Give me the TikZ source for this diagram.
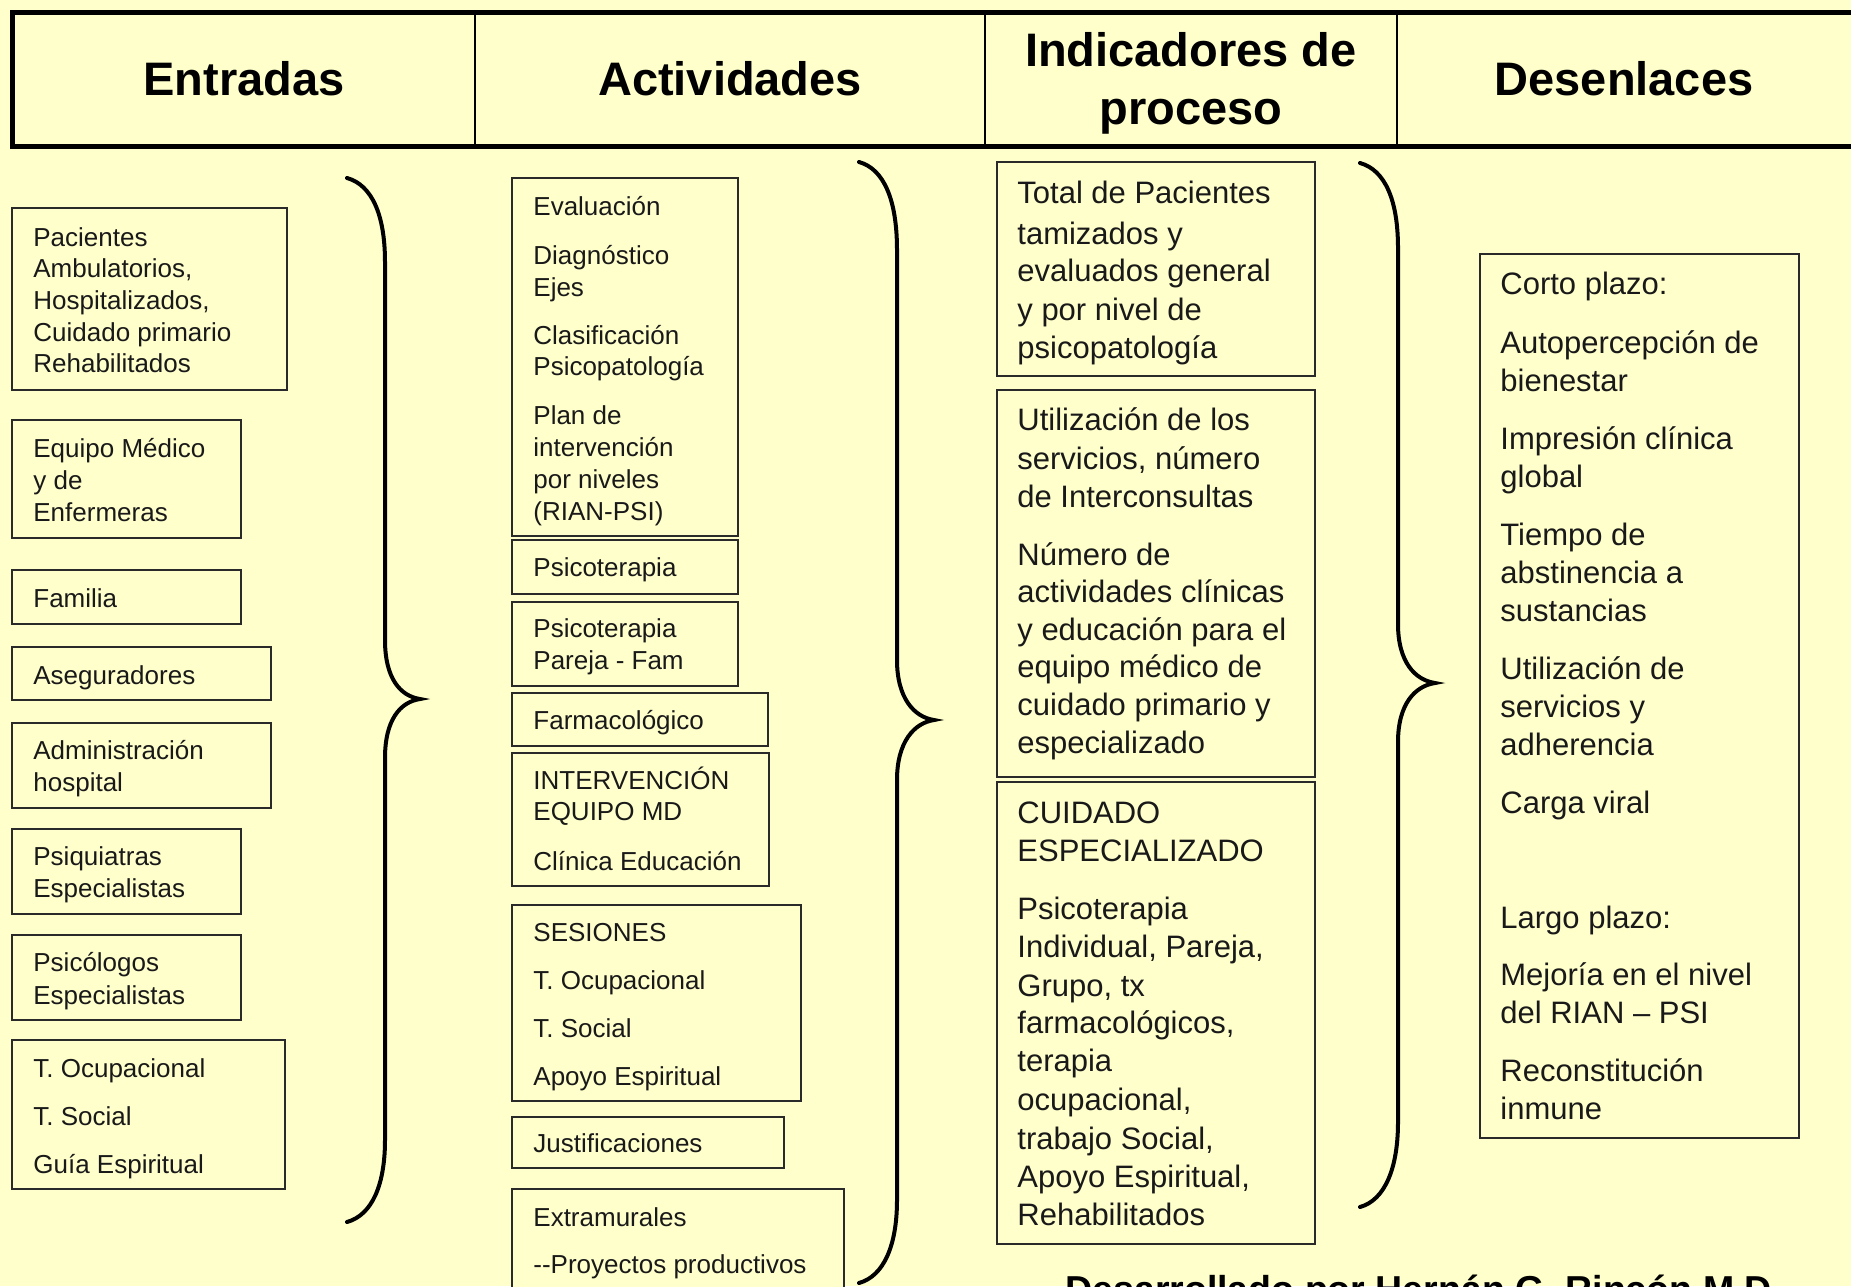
\documentclass[tikz,border=0pt]{standalone}
\usepackage{fontspec}
\setmainfont{Liberation Sans}
\definecolor{bg}{HTML}{FFFFCC}
\definecolor{ln}{HTML}{2A2A2A}
\newcommand\ftA{\fontsize{13}{15}\selectfont}
\newcommand\ftB{\fontsize{15.5}{18}\selectfont}
\newcommand\ftH{\fontsize{23.5}{26}\selectfont\bfseries}
\newcommand\ftF{\fontsize{18.75}{22}\selectfont\bfseries}
\newcommand\mybox[5]{\node[boxst, minimum width={(#4-#2)*0.5pt}, minimum height={(#5-#3)*0.5pt}] (#1) at ({(#2+#4)/2},{(#3+#5)/2}) {};}
\tikzset{
  boxst/.style={draw=ln, line width=1pt, fill=bg, inner sep=0pt, outer sep=0pt, rectangle},
  txa/.style={font=\ftA, inner sep=0pt, anchor=base west, text=black!90},
  txb/.style={font=\ftB, inner sep=0pt, anchor=base west, text=black!90},
  hd/.style={font=\ftH, inner sep=0pt, anchor=base, text=black},
  bracest/.style={line width=2pt, line cap=round, draw=black}
}
\begin{document}
\begin{tikzpicture}[x=0.5pt,y=-0.5pt]
\useasboundingbox (0,0) rectangle (1851,1286);
\clip (0,0) rectangle (1851,1286);
\fill[bg] (0,0) rectangle (1851,1286);

% header
\draw[line width=2.5pt] (1870,12) -- (12,12) -- (12,146) -- (1870,146);
\draw[line width=0.8pt] (475,12) -- (475,146);
\draw[line width=0.8pt] (985,12) -- (985,146);
\draw[line width=0.8pt] (1397,12) -- (1397,146);
\node[hd] (h1) at (244,95) {Entradas};
\node[hd] (h2) at (730,95) {Actividades};
\node[hd] (h3a) at (1191,66) {Indicadores de};
\node[hd] (h3b) at (1191,124) {proceso};
\node[hd] (h4) at (1624,95) {Desenlaces};

% Entradas
\mybox{e1}{12}{208}{287}{390}
\mybox{e2}{12}{420}{241}{538}
\mybox{e3}{12}{570}{241}{624}
\mybox{e4}{12}{647}{271}{700}
\mybox{e5}{12}{723}{271}{808}
\mybox{e6}{12}{829}{241}{914}
\mybox{e7}{12}{935}{241}{1020}
\mybox{e8}{12}{1040}{285}{1189}
\foreach \py/\ptext [count=\i] in {246/Pacientes, 277/{Ambulatorios,}, 309/{Hospitalizados,}, 341/Cuidado primario, 372/Rehabilitados,
  457/Equipo Médico, 489/y de, 521/Enfermeras, 607/Familia, 684/Aseguradores, 759/Administración, 791/hospital,
  865/Psiquiatras, 897/Especialistas, 971/Psicólogos, 1004/Especialistas,
  1077/T. Ocupacional, 1125/T. Social, 1173/Guía Espiritual}
  \node[txa] (et\i) at (33,\py) {\ptext};

% Actividades
\mybox{a1}{512}{178}{738}{536}
\mybox{a2}{512}{540}{738}{594}
\mybox{a3}{512}{602}{738}{686}
\mybox{a4}{512}{693}{768}{746}
\mybox{a5}{512}{753}{769}{886}
\mybox{a6}{512}{905}{801}{1101}
\mybox{a7}{512}{1117}{784}{1168}
\mybox{a8}{512}{1189}{844}{1320}
\foreach \py/\ptext [count=\i] in {215/Evaluación, 264/Diagnóstico, 296/Ejes, 344/Clasificación, 375/Psicopatología,
  424/Plan de, 456/intervención, 488/por niveles, 520/(RIAN-PSI), 576/Psicoterapia, 637/Psicoterapia, 669/Pareja - Fam,
  729/Farmacológico, 789/INTERVENCIÓN, 820/EQUIPO MD, 870/Clínica Educación,
  941/SESIONES, 989/T. Ocupacional, 1037/T. Social, 1085/Apoyo Espiritual, 1152/Justificaciones,
  1226/Extramurales, 1273/-{}-Proyectos productivos}
  \node[txa] (at\i) at (533,\py) {\ptext};

% Indicadores
\mybox{i1}{997}{162}{1315}{376}
\mybox{i2}{997}{390}{1315}{777}
\mybox{i3}{997}{782}{1315}{1244}
\foreach \py/\ptext [count=\i] in {203/Total de Pacientes, 244/tamizados y, 281/evaluados general, 320/y por nivel de, 358/psicopatología,
  430/Utilización de los, 469/{servicios, número}, 507/de Interconsultas, 565/Número de, 602/actividades clínicas,
  640/y educación para el, 677/equipo médico de, 715/cuidado primario y, 753/especializado,
  823/CUIDADO, 861/ESPECIALIZADO, 919/Psicoterapia, 957/{Individual, Pareja,}, 996/{Grupo, tx}, 1033/{farmacológicos,},
  1071/terapia, 1110/{ocupacional,}, 1149/{trabajo Social,}, 1187/{Apoyo Espiritual,}, 1225/Rehabilitados}
  \node[txb] (it\i) at (1017,\py) {\ptext};

% Desenlaces
\mybox{d1}{1480}{254}{1799}{1138}
\foreach \py/\ptext [count=\i] in {294/Corto plazo:, 353/Autopercepción de, 391/bienestar, 449/Impresión clínica, 487/global,
  545/Tiempo de, 583/abstinencia a, 621/sustancias, 679/Utilización de, 717/servicios y, 755/adherencia,
  813/Carga viral, 928/Largo plazo:, 985/Mejoría en el nivel, 1023/del RIAN – PSI, 1081/Reconstitución, 1119/inmune}
  \node[txb] (dt\i) at (1500,\py) {\ptext};

% braces
\draw[bracest] (347,178) .. controls (372,185) and (385,215) .. (385,262) -- (385,640)
  .. controls (385,678) and (400,696) .. (420,699) .. controls (400,702) and (385,720) .. (385,758)
  -- (385,1140) .. controls (385,1185) and (372,1215) .. (347,1222);
\draw[bracest] (859,162) .. controls (884,169) and (897,200) .. (897,250) -- (897,660)
  .. controls (897,698) and (914,717) .. (934,720) .. controls (914,723) and (897,742) .. (897,780)
  -- (897,1200) .. controls (897,1245) and (884,1276) .. (859,1283);
\draw[bracest] (1360,163) .. controls (1385,170) and (1398,200) .. (1398,248) -- (1398,624)
  .. controls (1398,662) and (1415,680) .. (1435,683) .. controls (1415,686) and (1398,704) .. (1398,742)
  -- (1398,1122) .. controls (1398,1168) and (1385,1200) .. (1360,1207);

% footer
\node[font=\ftF, inner sep=0pt, anchor=base west] (foot) at (1065,1302) {Desarrollado por Hernán G. Rincón M.D.};
\end{tikzpicture}
\end{document}
